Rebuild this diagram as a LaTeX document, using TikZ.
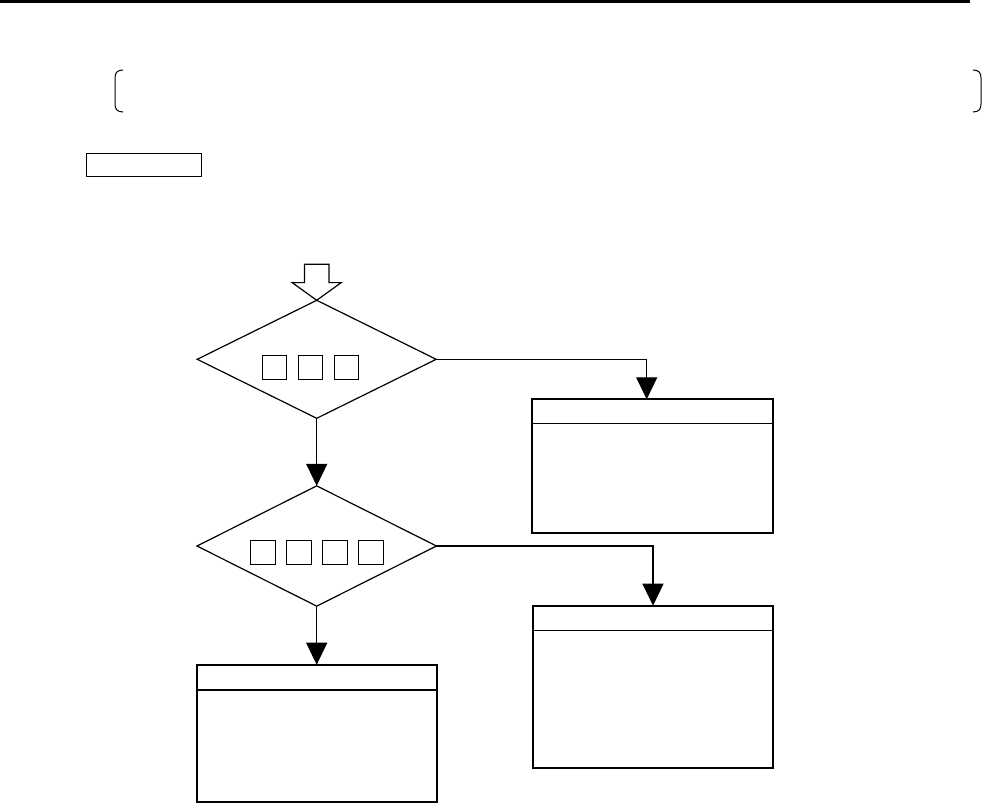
\documentclass[tikz,border=0pt]{standalone}
\usetikzlibrary{shapes.geometric,arrows.meta,calc}
\begin{document}
\begin{tikzpicture}[x=1pt,y=-1pt,
  dec/.style={draw, line width=1.2pt, shape=diamond, inner sep=0pt, outer sep=0pt},
  sq/.style={draw, line width=0.9pt, minimum width=24.5pt, minimum height=24pt, inner sep=0pt},
  res/.style={draw, line width=2pt, inner sep=0pt, outer sep=0pt},
  divider/.style={line width=1.3pt},
  conn/.style={line width=1.2pt, -{Triangle[width=21pt,length=22pt]}},
  thin/.style={line width=1pt}
]
\useasboundingbox (0,0) rectangle (984,803);
% top rule
\draw[line width=3pt] (0,1.5) -- (970,1.5);
% brackets
\draw[thin] (123,70) .. controls (117,70) and (115,73) .. (115,78) -- (115,104) .. controls (115,109) and (117,112) .. (123,112);
\draw[thin] (973,70) .. controls (979,70) and (981,73) .. (981,78) -- (981,104) .. controls (981,109) and (979,112) .. (973,112);
% small tag box
\node[draw, line width=0.9pt, minimum width=115pt, minimum height=23pt, inner sep=0pt] (tag) at (143.5,164.5) {};
% decisions
\node[dec, minimum width=239pt, minimum height=118pt] (d1) at (316.7,359.3) {};
\node[dec, minimum width=239.4pt, minimum height=120.3pt] (d2) at (316.7,546) {};
% squares in d1
\node[sq] (s11) at (274.5,367) {};
\node[sq] (s12) at (310.5,367) {};
\node[sq] (s13) at (346.2,367) {};
% squares in d2
\node[sq, minimum width=25.5pt] (s21) at (262.9,552.2) {};
\node[sq, minimum width=25.5pt] (s22) at (298.9,552.2) {};
\node[sq, minimum width=25.5pt] (s23) at (334.9,552.2) {};
\node[sq, minimum width=25.5pt] (s24) at (370.9,552.2) {};
% result boxes
\node[res, minimum width=241.6pt, minimum height=134pt] (b1) at (652.5,466.3) {};
\node[res, minimum width=240.6pt, minimum height=162.6pt] (b2) at (653,687) {};
\node[res, minimum width=240pt, minimum height=136.8pt] (b3) at (316.7,733.1) {};
\draw[divider] ($(b1.north west)+(0,24)$) -- ($(b1.north east)+(0,24)$);
\draw[divider] ($(b2.north west)+(0,24.6)$) -- ($(b2.north east)+(0,24.6)$);
\draw[divider] ($(b3.north west)+(0,25.3)$) -- ($(b3.north east)+(0,25.3)$);
% entry fat arrow
\draw[line width=1.2pt, fill=white] (d1.north) -- ++(-24.5,-17.7) -- ++(12.2,0) -- ++(0,-18.3) -- ++(24.6,0) -- ++(0,18.3) -- ++(12.2,0) -- cycle;
% connectors
\draw[conn] (d1.east) -| ($(b1.north)+(-5.8,0)$);
\draw[conn] (d1.south) -- (d2.north);
\draw[conn] (d2.east) -| (b2.north);
\draw[conn] (d2.south) -- (b3.north);
\end{tikzpicture}
\end{document}
